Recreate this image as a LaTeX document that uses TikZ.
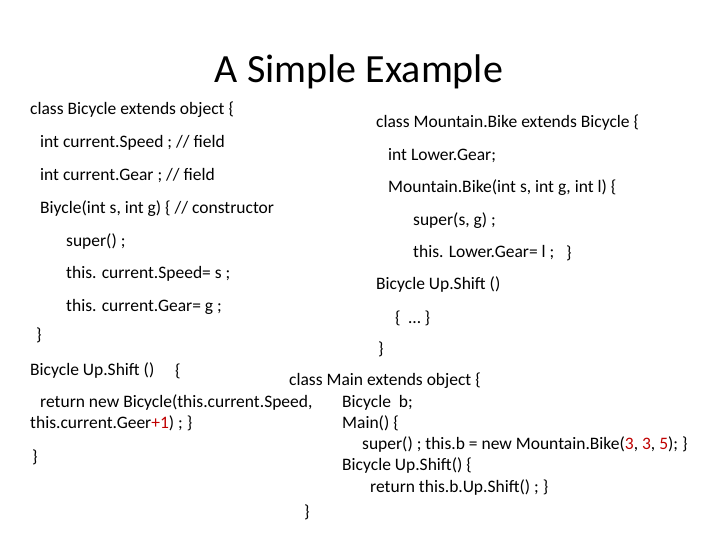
\documentclass[tikz,border=0pt]{standalone}
\usepackage{fontspec}
\setmainfont{Carlito}
\definecolor{numred}{RGB}{192,0,0}
\begin{document}
\begin{tikzpicture}[x=1pt,y=-1pt,
  tx/.style={anchor=west,inner sep=0pt,font=\fontsize{17.5}{20}\selectfont}]
\useasboundingbox[fill=white] (0,0) rectangle (720,540);
\node[font=\fontsize{40}{44}\selectfont,inner sep=0pt] (title) at (359,72) {A Simple Example};
\node[tx] (l1) at (30,110) {class Bicycle extends object \{};
\node[tx] (l2) at (40,143) {int current.Speed ; // field};
\node[tx] (l3) at (40,176) {int current.Gear ; // field};
\node[tx] (l4) at (40,209) {Biycle(int s, int g) \{ // constructor};
\node[tx] (l5) at (66,242) {super() ;};
\node[tx] (l6) at (66,274) {this. current.Speed= s ;};
\node[tx] (l7) at (66,307) {this. current.Gear= g ;};
\node[tx] (l8) at (36,335) {\}};
\node[tx] (l9) at (30,371) {Bicycle Up.Shift ()};
\node[tx] (l9b) at (175,371) {\{};
\node[tx] (l10) at (40,403) {return new Bicycle(this.current.Speed,};
\node[tx] (l11) at (30,423) {this.current.Geer{\color{numred}+1}) ; \}};
\node[tx] (l12) at (32,457) {\}};
\node[tx] (r1) at (376,123) {class Mountain.Bike extends Bicycle \{};
\node[tx] (r2) at (388,156) {int Lower.Gear;};
\node[tx] (r3) at (388,188) {Mountain.Bike(int s, int g, int l) \{};
\node[tx] (r4) at (413,221) {super(s, g) ;};
\node[tx] (r5) at (413,253) {this. Lower.Gear= l ;};
\node[tx] (r5b) at (566,253) {\}};
\node[tx] (r6) at (376,285) {Bicycle Up.Shift ()};
\node[tx] (r7) at (395,318) {\{ \ … \}};
\node[tx] (r8) at (378,349) {\}};
\node[tx] (m1) at (289,381) {class Main extends object \{};
\node[tx] (m2) at (342,403) {Bicycle\ \ b;};
\node[tx] (m3) at (342,423) {Main() \{};
\node[tx] (m4) at (362,445) {super() ; this.b = new Mountain.Bike({\color{numred}3}, {\color{numred}3}, {\color{numred}5}); \}};
\node[tx] (m5) at (342,466) {Bicycle Up.Shift() \{};
\node[tx] (m6) at (370,488) {return this.b.Up.Shift() ; \}};
\node[tx] (m7) at (304,512) {\}};
\end{tikzpicture}
\end{document}
